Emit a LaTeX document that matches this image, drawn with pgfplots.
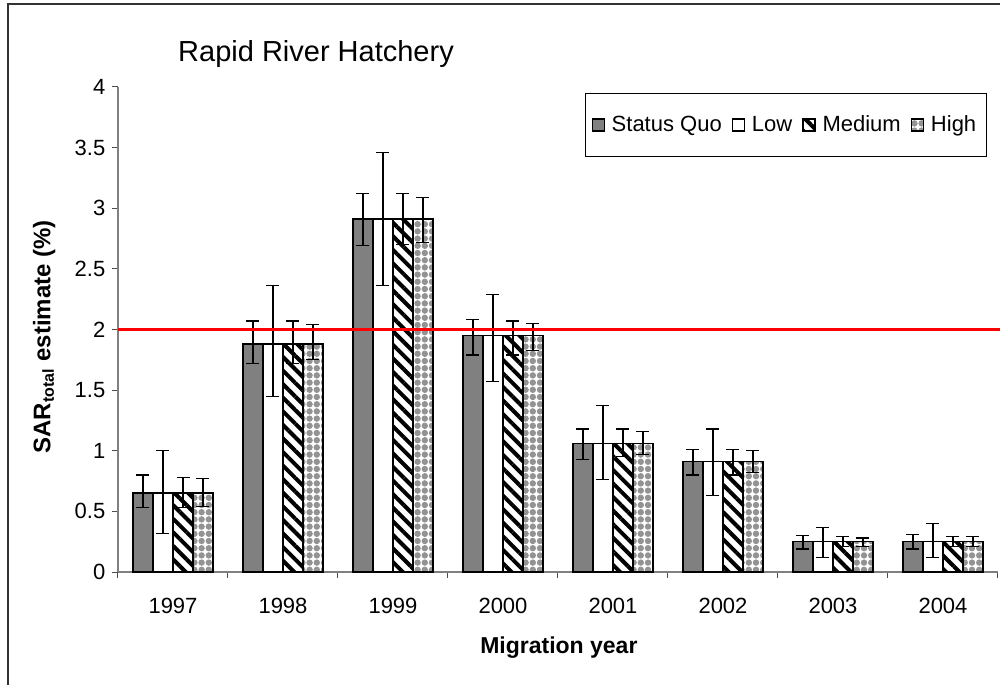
\documentclass[border=0pt]{standalone}
\usepackage{fontspec}
\setmainfont{Liberation Sans}
\usepackage{pgfplots}
\pgfplotsset{compat=1.18}
\usetikzlibrary{patterns.meta}

\begin{document}
\begin{tikzpicture}
\begin{axis}[
  at={(0pt,0pt)}, anchor=south west,
  scale only axis, width=440pt, height=242.5pt,
  ybar=0pt, bar width=10pt,
  xmin=-0.5, xmax=7.5, ymin=0, ymax=4,
  clip=false,
  axis x line*=bottom, axis y line*=left,
  axis line style={draw=gray, line width=0.6pt},
  tick style={draw=black!70, line width=0.5pt},
  tick align=outside, major tick length=2.8pt,
  xtick={-0.5,0.5,1.5,2.5,3.5,4.5,5.5,6.5,7.5},
  x tick label as interval,
  xticklabels={1997,1998,1999,2000,2001,2002,2003,2004},
  ytick={0,0.5,1,1.5,2,2.5,3,3.5,4},
  /pgf/number format/assume math mode=true,
  ticklabel style={font=\fontsize{11}{13}\selectfont},
  xticklabel style={yshift=-6.5pt},
  title={Rapid River Hatchery},
  title style={at={(axis description cs:0.068,1.027)}, anchor=base west, inner sep=0pt, yshift=0pt, font=\fontsize{14.5}{16}\selectfont},
  ylabel={\textbf{SAR\textsubscript{total} estimate (\%)}},
  ylabel style={at={(axis description cs:-0.084,0.485)}, anchor=center, font=\fontsize{12}{14}\selectfont},
  xlabel={\textbf{Migration year}},
  xlabel style={at={(axis description cs:0.501,-0.155)}, anchor=center, font=\fontsize{11.5}{13}\selectfont},
  legend style={at={(axis description cs:0.5307,0.9876)}, anchor=north west, draw=black, line width=0.5pt,
    font=\fontsize{11}{13}\selectfont, inner ysep=9pt, inner xsep=3pt,
    /tikz/every odd column/.style={column sep=1.5pt},
    /tikz/every even column/.style={column sep=3pt}},
  legend columns=4,
  legend image code/.code={\draw[#1, line width=0.6pt] (0pt,-3pt) rectangle (6pt,3pt);},
  every axis plot/.append style={draw=black, line width=0.75pt},
  error bars/error bar style={draw=black, line width=0.6pt},
  error bars/error mark options={rotate=90, mark size=3.25pt, line width=0.6pt, draw=black},
]
% Status Quo
\addplot[fill=gray, error bars/.cd, y dir=both, y explicit] coordinates {
 (0,0.65) += (0,0.15) -= (0,0.12)
 (1,1.88) += (0,0.19) -= (0,0.16)
 (2,2.91) += (0,0.21) -= (0,0.22)
 (3,1.95) += (0,0.13) -= (0,0.16)
 (4,1.06) += (0,0.12) -= (0,0.13)
 (5,0.91) += (0,0.10) -= (0,0.11)
 (6,0.25) += (0,0.05) -= (0,0.06)
 (7,0.25) += (0,0.06) -= (0,0.06)
};
% Low
\addplot[fill=white, error bars/.cd, y dir=both, y explicit] coordinates {
 (0,0.65) += (0,0.35) -= (0,0.33)
 (1,1.88) += (0,0.48) -= (0,0.43)
 (2,2.91) += (0,0.55) -= (0,0.55)
 (3,1.95) += (0,0.34) -= (0,0.38)
 (4,1.06) += (0,0.31) -= (0,0.30)
 (5,0.91) += (0,0.27) -= (0,0.28)
 (6,0.25) += (0,0.12) -= (0,0.13)
 (7,0.25) += (0,0.15) -= (0,0.13)
};
% Medium
\addplot[pattern={Lines[angle=-45, distance=4.8pt, line width=2pt]}, pattern color=black, error bars/.cd, y dir=both, y explicit] coordinates {
 (0,0.65) += (0,0.13) -= (0,0.12)
 (1,1.88) += (0,0.19) -= (0,0.16)
 (2,2.91) += (0,0.21) -= (0,0.21)
 (3,1.95) += (0,0.12) -= (0,0.16)
 (4,1.06) += (0,0.12) -= (0,0.11)
 (5,0.91) += (0,0.10) -= (0,0.11)
 (6,0.25) += (0,0.04) -= (0,0.04)
 (7,0.25) += (0,0.04) -= (0,0.04)
};
% High
\addplot[pattern={Dots[distance=3.6pt, radius=1.6pt]}, pattern color=gray!85, error bars/.cd, y dir=both, y explicit] coordinates {
 (0,0.65) += (0,0.12) -= (0,0.11)
 (1,1.88) += (0,0.16) -= (0,0.13)
 (2,2.91) += (0,0.18) -= (0,0.19)
 (3,1.95) += (0,0.10) -= (0,0.12)
 (4,1.06) += (0,0.10) -= (0,0.09)
 (5,0.91) += (0,0.09) -= (0,0.09)
 (6,0.25) += (0,0.03) -= (0,0.04)
 (7,0.25) += (0,0.04) -= (0,0.04)
};
\legend{Status Quo,Low,Medium,High}
\addplot[sharp plot, draw=red, line width=1.1pt, forget plot, mark=none] coordinates {(-0.5,2) (7.56,2)};
\end{axis}
\draw[black!80, line width=0.6pt] (-55pt,-56.5pt) -- (-55pt,284pt) -- (441pt,284pt);
\pgfresetboundingbox
\useasboundingbox (-59pt,-56.5pt) rectangle (441pt,286pt);
\end{tikzpicture}
\end{document}
